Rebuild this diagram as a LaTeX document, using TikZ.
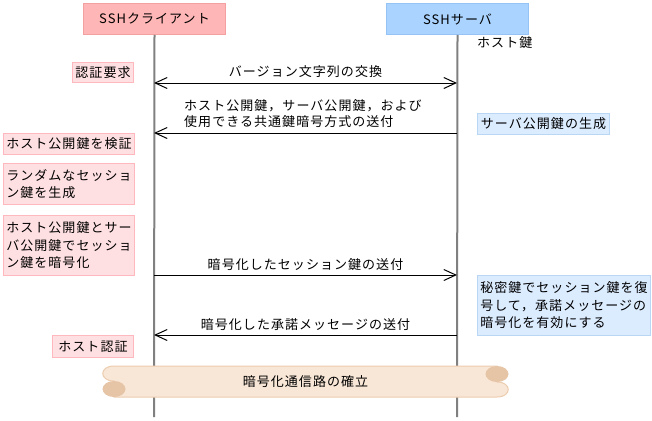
\documentclass[tikz,border=0pt]{standalone}
\usepackage{fontspec}
\newfontfamily\jp{Noto Sans CJK JP}[LetterSpace=8]
\usetikzlibrary{arrows.meta}
\definecolor{hdrC}{RGB}{255,182,182}
\definecolor{hdrCb}{RGB}{245,160,160}
\definecolor{hdrS}{RGB}{170,212,255}
\definecolor{hdrSb}{RGB}{150,195,245}
\definecolor{noteC}{RGB}{255,224,226}
\definecolor{noteCb}{RGB}{255,185,190}
\definecolor{noteS}{RGB}{220,236,255}
\definecolor{noteSb}{RGB}{185,215,245}
\definecolor{lifecol}{RGB}{128,128,128}
\definecolor{bannerF}{RGB}{248,230,214}
\definecolor{bannerB}{RGB}{236,205,175}
\definecolor{curlF}{RGB}{230,196,166}
\tikzset{
  txt/.style={inner sep=0pt, font=\jp\fontsize{13}{17.5}\selectfont, align=left},
  hdrc/.style={txt, fill=hdrC, draw=hdrCb, line width=1pt, minimum width=142pt, minimum height=31pt, align=center},
  hdrs/.style={txt, fill=hdrS, draw=hdrSb, line width=1pt, minimum width=142pt, minimum height=31pt, align=center},
  cnote/.style={txt, fill=noteC, draw=noteCb, line width=1pt},
  snote/.style={txt, fill=noteS, draw=noteSb, line width=1pt},
  life/.style={draw=lifecol, line width=2pt},
  barb/.tip={Straight Barb[length=12pt,width=11pt]},
  msg/.style={draw=black, line width=1pt, -barb},
  lbl/.style={txt}
}
\begin{document}
\begin{tikzpicture}[x=1pt,y=-1pt]
\useasboundingbox (0,0) rectangle (652,420);
% headers
\node[hdrc, anchor=north west] (client) at (83,3) {SSHクライアント};
\node[hdrs, anchor=north west] (server) at (386,3) {SSHサーバ};
\coordinate (cend) at (154,417);
\coordinate (send) at (457,417);
\draw[life] (client.south) -- (cend);
\draw[life] (server.south) -- (send);
\node[lbl, anchor=west] (hostkey) at (477,43) {ホスト鍵};
% messages
\coordinate (c1) at (154,83); \coordinate (s1) at (457,83);
\coordinate (c2) at (154,133); \coordinate (s2) at (457,133);
\coordinate (c3) at (154,275); \coordinate (s3) at (457,275);
\coordinate (c4) at (154,335); \coordinate (s4) at (457,335);
\draw[msg, barb-barb] (c1) -- (s1);
\draw[msg] (s2) -- (c2);
\draw[msg] (c3) -- (s3);
\draw[msg] (s4) -- (c4);
\node[lbl] (l1) at (305.5,72) {バージョン文字列の交換};
\node[lbl, anchor=west, font=\jp\fontsize{13}{16}\selectfont] (l2) at (184,114) {ホスト公開鍵，サーバ公開鍵，および\\使用できる共通鍵暗号方式の送付};
\node[lbl] (l3) at (305.5,265) {暗号化したセッション鍵の送付};
\node[lbl] (l4) at (305.5,325) {暗号化した承諾メッセージの送付};
% client notes
\node[cnote, anchor=north east, minimum width=61pt, minimum height=20pt] (n1) at (134,62) {認証要求};
\node[cnote, anchor=north west, minimum width=131pt, minimum height=21pt] (n2) at (3,133) {ホスト公開鍵を検証};
\node[cnote, anchor=north west, minimum width=131pt, minimum height=41pt] (n3) at (3,163) {ランダムなセッショ\\ン鍵を生成};
\node[cnote, anchor=north west, minimum width=131pt, minimum height=60pt] (n4) at (3,215) {ホスト公開鍵とサー\\バ公開鍵でセッショ\\ン鍵を暗号化};
\node[cnote, anchor=north east, minimum width=81pt, minimum height=22pt] (n5) at (134,335) {ホスト認証};
% server notes
\node[snote, anchor=north west, minimum width=132pt, minimum height=21pt] (m1) at (477,113) {サーバ公開鍵の生成};
\node[snote, anchor=north west, minimum width=173pt, minimum height=60pt] (m2) at (477,275) {秘密鍵でセッション鍵を復\\号して，承諾メッセージの\\暗号化を有効にする};
% banner
\filldraw[fill=bannerF, draw=bannerB, line width=1pt]
  (114,366) -- (497,366) -- (497,382) .. controls (512,382) and (512,397) .. (497,397)
  -- (114,397) -- (114,381) .. controls (99,381) and (99,366) .. (114,366) -- cycle;
\fill[curlF] (497,374) ellipse [x radius=11.5pt, y radius=8pt];
\fill[curlF] (114,389) ellipse [x radius=11.5pt, y radius=8pt];
\node[lbl] (b) at (305.5,382) {暗号化通信路の確立};
\end{tikzpicture}
\end{document}
